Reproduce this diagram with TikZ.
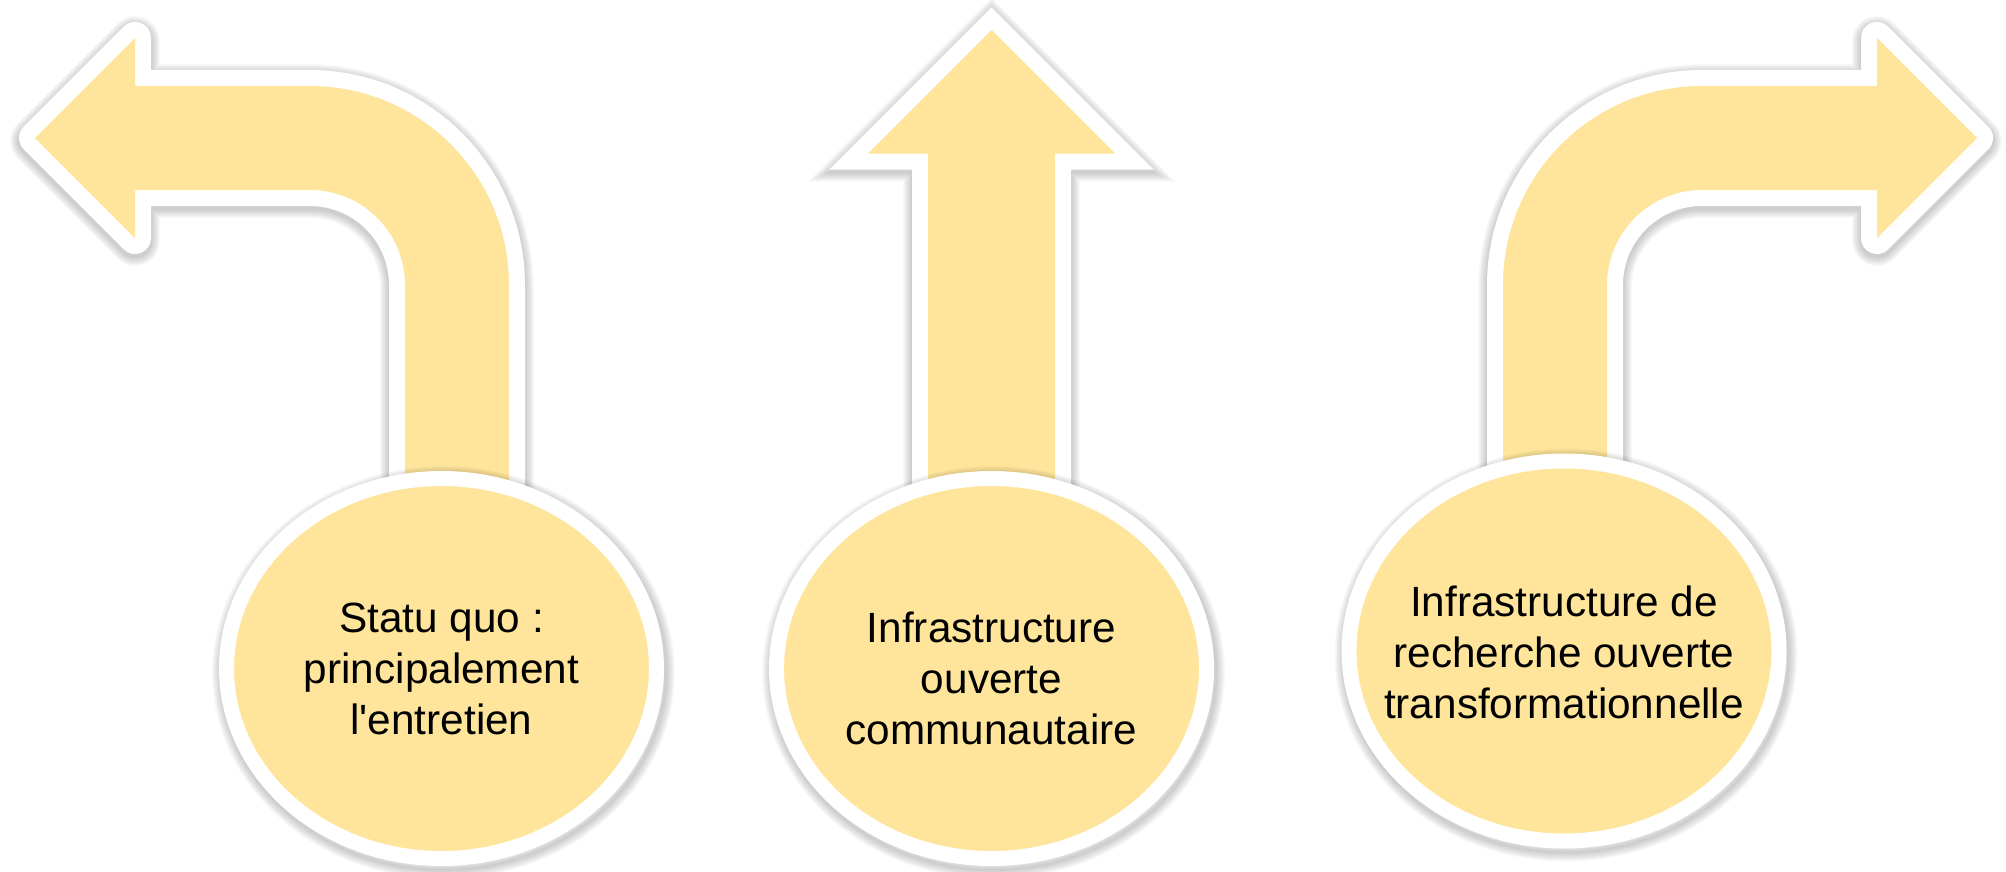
\documentclass[tikz,border=0pt]{standalone}
\usepackage{fontspec}
\setmainfont{Liberation Sans}
\usetikzlibrary{shapes.geometric}
\definecolor{gold}{HTML}{FEE59B}
\begin{document}
\begin{tikzpicture}[x=1pt,y=-1pt,
  arrowborder/.style={draw=white,line width=32pt},
  shade layer/.style={draw=black,draw opacity=0.022},
  bubble/.style={ellipse,minimum width=430pt,minimum height=380pt,draw=white,line width=15pt,fill=gold,inner sep=0pt},
  label/.style={align=center,inner sep=0pt,font=\fontsize{42.3}{51}\selectfont}]
\useasboundingbox (0,0) rectangle (2006,871);
\def\pathL{(35,138) -- (135,38) -- (135,86) -- (310,86) .. controls (419.9,86) and (509,175.1) .. (509,285) -- (509,560) -- (405,560) -- (405,285) .. controls (405,232.5) and (362.5,190) .. (310,190) -- (135,190) -- (135,238) -- cycle}
\def\pathR{(1977,138) -- (1877,38) -- (1877,86) -- (1702,86) .. controls (1592.1,86) and (1503,175.1) .. (1503,285) -- (1503,560) -- (1607,560) -- (1607,285) .. controls (1607,232.5) and (1649.5,190) .. (1702,190) -- (1877,190) -- (1877,238) -- cycle}
\def\pathM{(991.5,30) -- (1115,153.5) -- (1055,153.5) -- (1055,560) -- (928,560) -- (928,153.5) -- (868,153.5) -- cycle}
% arrow shadows (soft, slightly below)
\foreach \k in {1,...,9}{
  \pgfmathsetmacro\lw{32+2*\k}
  \draw[shift={(0,3)},shade layer,line width=\lw pt,line join=round] \pathL;
  \draw[shift={(0,3)},shade layer,line width=\lw pt,line join=round] \pathR;
  \draw[shift={(0,3)},shade layer,line width=\lw pt,line join=miter] \pathM;
}
% arrows
\draw[arrowborder,line join=round] \pathL;
\fill[gold] \pathL;
\draw[arrowborder,line join=round] \pathR;
\fill[gold] \pathR;
\draw[arrowborder,line join=miter] \pathM;
\fill[gold] \pathM;
% ellipse shadows
\foreach \cx/\cy in {441.5/668.5, 991.5/668.5, 1564/651}{
  \foreach \k in {1,...,9}{
    \pgfmathsetmacro\lw{2*\k}
    \draw[shade layer,line width=\lw pt] (\cx+2,\cy+4) ellipse [x radius=222.5, y radius=197.5];
  }
}
% bubbles
\node[bubble] (e1) at (441.5,668.5) {};
\node[bubble] (e2) at (991.5,668.5) {};
\node[bubble] (e3) at (1564,651) {};
\node[label] (t1) at (441.5,669) {Statu quo :\\principalement\\l\textquotesingle entretien};
\node[label] (t2) at (991.5,678) {Infrastructure\\ouverte\\communautaire};
\node[label] (t3) at (1564,652) {Infrastructure de\\recherche ouverte\\transformationnelle};
\end{tikzpicture}
\end{document}
